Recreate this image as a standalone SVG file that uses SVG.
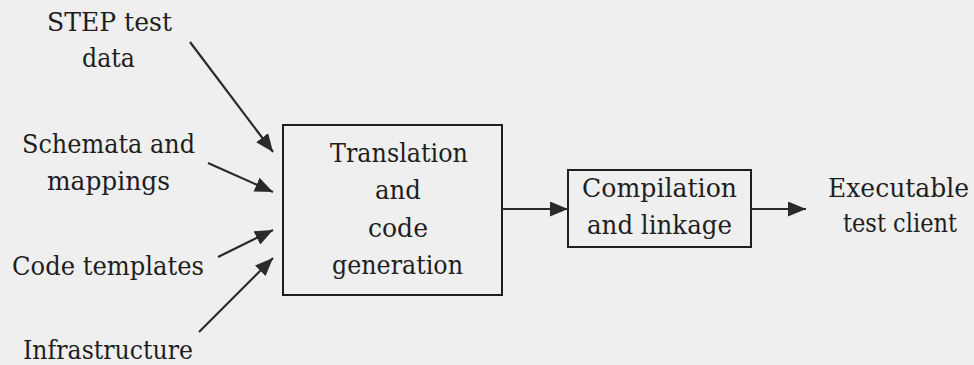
<svg xmlns="http://www.w3.org/2000/svg" width="974" height="365" viewBox="0 0 974 365">
<style>
text{font-family:"DejaVu Serif",serif;font-size:26px;fill:#1e1e1e;text-anchor:middle}
.box{fill:none;stroke:#1e1e1e;stroke-width:2}
.conn line{stroke:#2a2a2a;stroke-width:2.2;marker-end:url(#ah)}
</style>
<defs>
<marker id="ah" markerUnits="userSpaceOnUse" markerWidth="19" markerHeight="15" refX="18" refY="7.5" orient="auto">
<path d="M0,0 L18,7.5 L0,15 z" fill="#2a2a2a"/>
</marker>
</defs>
<rect width="974" height="365" fill="#efefef"/>
<g id="step"><text x="109.5" y="31" textLength="125" lengthAdjust="spacingAndGlyphs">STEP test</text><text x="108.5" y="67" textLength="53" lengthAdjust="spacingAndGlyphs">data</text></g>
<g id="schemata"><text x="108.5" y="153" textLength="173" lengthAdjust="spacingAndGlyphs">Schemata and</text><text x="108.5" y="190" textLength="123" lengthAdjust="spacingAndGlyphs">mappings</text></g>
<g id="templates"><text x="108" y="275" textLength="192" lengthAdjust="spacingAndGlyphs">Code templates</text></g>
<g id="infra"><text x="108" y="359" textLength="170" lengthAdjust="spacingAndGlyphs">Infrastructure</text></g>
<g id="translation"><rect class="box" x="283" y="125" width="219" height="170"/>
<text x="399" y="162" textLength="138" lengthAdjust="spacingAndGlyphs">Translation</text><text x="398" y="199" textLength="46" lengthAdjust="spacingAndGlyphs">and</text><text x="398" y="237" textLength="60" lengthAdjust="spacingAndGlyphs">code</text><text x="397.5" y="274" textLength="131" lengthAdjust="spacingAndGlyphs">generation</text></g>
<g id="compilation"><rect class="box" x="568" y="170" width="183" height="77"/>
<text x="659.5" y="197" textLength="155" lengthAdjust="spacingAndGlyphs">Compilation</text><text x="659.5" y="234" textLength="145" lengthAdjust="spacingAndGlyphs">and linkage</text></g>
<g id="client"><text x="898.5" y="197" textLength="141" lengthAdjust="spacingAndGlyphs">Executable</text><text x="900" y="232" textLength="114" lengthAdjust="spacingAndGlyphs">test client</text></g>
<g class="conn" id="connectors">
<line x1="190" y1="42" x2="273" y2="152"/>
<line x1="208" y1="163" x2="273" y2="192"/>
<line x1="218" y1="257" x2="273" y2="230"/>
<line x1="199" y1="332" x2="273" y2="258"/>
<line x1="502" y1="209" x2="568" y2="209"/>
<line x1="751" y1="209" x2="806" y2="209"/>
</g>
</svg>
